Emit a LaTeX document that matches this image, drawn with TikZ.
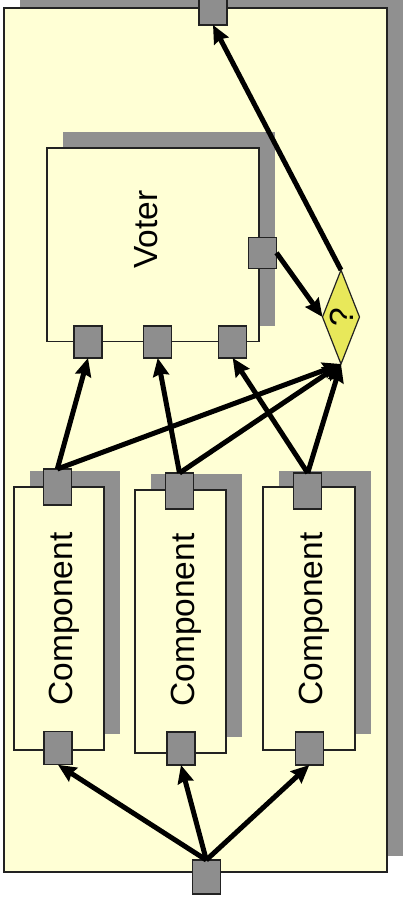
\documentclass[tikz,border=0pt]{standalone}
\usepackage{fontspec}
\setmainfont{Liberation Sans}
\usetikzlibrary{arrows.meta,shapes.geometric,shadows}
\definecolor{bgyellow}{HTML}{FFFFD5}
\definecolor{shadowgray}{HTML}{909090}
\definecolor{portgray}{HTML}{8E8E8E}
\definecolor{diayellow}{HTML}{E8E85A}
\definecolor{edge}{HTML}{222222}
\begin{document}
\begin{tikzpicture}[x=1pt,y=-1pt,
  box/.style={draw=edge, line width=1.2pt, fill=bgyellow, inner sep=0pt, outer sep=0pt,
    drop shadow={shadow xshift=16pt, shadow yshift=16pt, fill=shadowgray, opacity=1, draw=none}},
  port/.style={draw=edge, line width=1.2pt, fill=portgray, minimum width=28pt, minimum height=34pt, inner sep=0pt, outer sep=0pt},
  decision/.style={draw=edge, line width=1.2pt, fill=diayellow, shape=diamond, minimum width=37pt, minimum height=94pt, inner sep=0pt, outer sep=0pt},
  lbl/.style={rotate=90, anchor=base, inner sep=0pt, font=\fontsize{33.5}{40}\selectfont},
  conn/.style={line width=5pt, -{Stealth[length=18pt,width=16pt,inset=2pt]}},
]
\clip (0,0) rectangle (403,902);
\fill[white] (0,0) rectangle (403,902);
% outer frame
\node[box, minimum width=383pt, minimum height=864pt] (frame) at (195.5,440) {};
% voter
\node[box, minimum width=212pt, minimum height=193.5pt] (voter) at (153,244.75) {};
\node[lbl] (vlbl) at (157,229.5) {Voter};
% components
\node[box, minimum width=90pt, minimum height=263pt] (c1) at (59,618.5) {};
\node[box, minimum width=91pt, minimum height=263pt] (c2) at (180.5,621.5) {};
\node[box, minimum width=92pt, minimum height=263pt] (c3) at (309,618.5) {};
\node[lbl] (l1) at (72.5,619) {Component};
\node[lbl] (l2) at (194,620) {Component};
\node[lbl] (l3) at (322.5,619) {Component};
% ports
\node[port] (top) at (213,8) {};
\node[port] (bot) at (206.3,877) {};
\node[port, minimum height=36pt] (c1t) at (57.3,487) {};
\node[port, minimum height=33pt] (c1b) at (58,748.3) {};
\node[port, minimum height=36pt] (c2t) at (179.5,491) {};
\node[port, minimum height=33pt] (c2b) at (181,748.5) {};
\node[port, minimum height=36pt] (c3t) at (307.7,491) {};
\node[port, minimum height=33pt] (c3b) at (309.3,748.5) {};
\node[port, minimum height=32pt] (v1) at (88,342) {};
\node[port, minimum height=32pt] (v2) at (157.7,342) {};
\node[port, minimum height=32pt] (v3) at (232.7,342) {};
\node[port, minimum height=31pt] (vr) at (262.5,252.8) {};
% decision
\node[decision] (dia) at (341,317) {};
\node[lbl] (q) at (353,317) {?};
% connectors
\draw[conn] (c1t.north) -- (v1.south);
\draw[conn] (c2t.north) -- (v2.south);
\draw[conn] (c3t.north) -- (v3.south);
\draw[conn] (c1t.north) -- (dia.south);
\draw[conn] (c2t.north) -- (dia.south);
\draw[conn] (c3t.north) -- (dia.south);
\draw[conn] (vr.east) -- (dia.west);
\draw[conn] (dia.north) -- (top.south);
\draw[conn] (bot.north) -- (c1b.south);
\draw[conn] (bot.north) -- (c2b.south);
\draw[conn] (bot.north) -- (c3b.south);
\end{tikzpicture}
\end{document}
